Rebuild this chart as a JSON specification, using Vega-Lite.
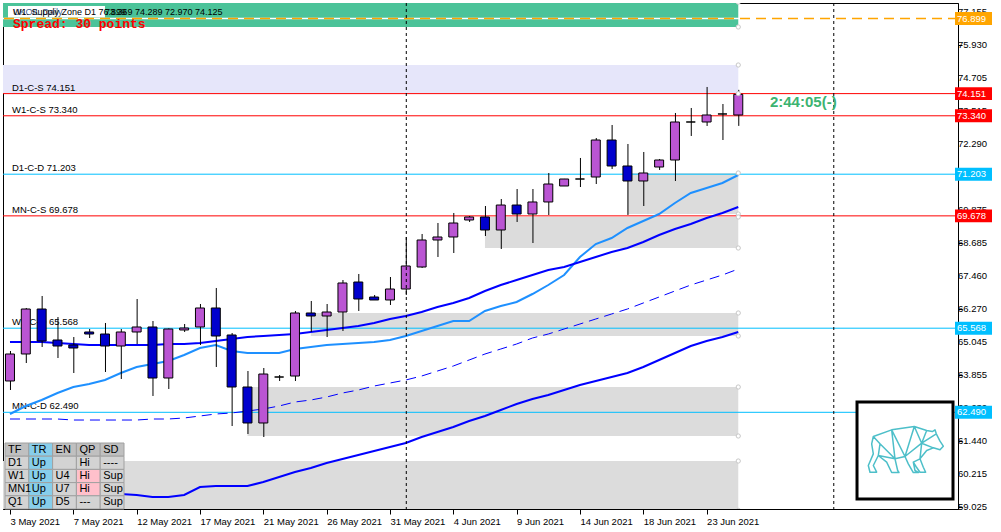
{
  "$schema": "https://vega.github.io/schema/vega-lite/v6.json",
  "width": 955,
  "height": 506,
  "autosize": {"type": "none"},
  "padding": {"left": 3, "top": 3, "right": 43, "bottom": 23},
  "background": "#FFFFFF",
  "config": {"view": {"stroke": "#000000", "strokeWidth": 1}, "font": "Liberation Sans"},
  "datasets": {
    "candles": [
      {"i":0,"d":"2021-05-03","o":63.636,"h":64.733,"l":63.306,"c":64.624,"m1":62.428,"m2":65.062,"m3":62.245,"m4":59.501},
      {"i":1,"d":"2021-05-04","o":64.624,"h":66.307,"l":64.294,"c":66.270,"m1":62.721,"m2":65.062,"m3":62.245,"m4":59.501},
      {"i":2,"d":"2021-05-05","o":66.270,"h":66.746,"l":64.880,"c":65.099,"m1":62.940,"m2":65.062,"m3":62.245,"m4":59.501},
      {"i":3,"d":"2021-05-06","o":65.136,"h":65.977,"l":64.477,"c":64.916,"m1":63.196,"m2":65.026,"m3":62.245,"m4":59.501},
      {"i":4,"d":"2021-05-07","o":64.953,"h":65.245,"l":63.928,"c":64.843,"m1":63.416,"m2":64.989,"m3":62.208,"m4":59.501},
      {"i":5,"d":"2021-05-09","o":65.429,"h":65.538,"l":65.209,"c":65.355,"m1":63.526,"m2":64.953,"m3":62.208,"m4":59.501},
      {"i":6,"d":"2021-05-10","o":65.355,"h":65.758,"l":63.965,"c":64.916,"m1":63.672,"m2":64.953,"m3":62.208,"m4":59.501},
      {"i":7,"d":"2021-05-11","o":64.916,"h":65.538,"l":63.709,"c":65.429,"m1":63.928,"m2":64.953,"m3":62.208,"m4":59.501},
      {"i":8,"d":"2021-05-12","o":65.429,"h":66.636,"l":64.989,"c":65.612,"m1":64.148,"m2":64.953,"m3":62.208,"m4":59.464},
      {"i":9,"d":"2021-05-13","o":65.612,"h":65.831,"l":63.087,"c":63.745,"m1":64.257,"m2":64.953,"m3":62.245,"m4":59.391},
      {"i":10,"d":"2021-05-14","o":63.745,"h":65.560,"l":63.343,"c":65.538,"m1":64.367,"m2":64.989,"m3":62.245,"m4":59.391},
      {"i":11,"d":"2021-05-16","o":65.502,"h":65.721,"l":65.429,"c":65.575,"m1":64.587,"m2":64.989,"m3":62.282,"m4":59.464},
      {"i":12,"d":"2021-05-17","o":65.612,"h":66.453,"l":64.953,"c":66.307,"m1":64.843,"m2":65.026,"m3":62.355,"m4":59.757},
      {"i":13,"d":"2021-05-18","o":66.307,"h":67.039,"l":64.148,"c":65.282,"m1":64.953,"m2":65.099,"m3":62.428,"m4":59.793},
      {"i":14,"d":"2021-05-19","o":65.319,"h":65.392,"l":61.989,"c":63.416,"m1":64.733,"m2":65.172,"m3":62.465,"m4":59.793},
      {"i":15,"d":"2021-05-20","o":63.416,"h":64.001,"l":61.696,"c":62.099,"m1":64.660,"m2":65.245,"m3":62.538,"m4":59.793},
      {"i":16,"d":"2021-05-21","o":62.099,"h":64.111,"l":61.586,"c":63.891,"m1":64.660,"m2":65.282,"m3":62.611,"m4":59.940},
      {"i":17,"d":"2021-05-23","o":63.782,"h":63.855,"l":63.636,"c":63.782,"m1":64.660,"m2":65.319,"m3":62.721,"m4":60.123},
      {"i":18,"d":"2021-05-24","o":63.818,"h":66.197,"l":63.636,"c":66.124,"m1":64.806,"m2":65.355,"m3":62.867,"m4":60.306},
      {"i":19,"d":"2021-05-25","o":66.124,"h":66.563,"l":65.429,"c":66.014,"m1":64.880,"m2":65.428,"m3":62.940,"m4":60.452},
      {"i":20,"d":"2021-05-26","o":66.014,"h":66.453,"l":65.245,"c":66.160,"m1":64.953,"m2":65.502,"m3":63.050,"m4":60.635},
      {"i":21,"d":"2021-05-27","o":66.160,"h":67.331,"l":65.465,"c":67.222,"m1":64.989,"m2":65.575,"m3":63.196,"m4":60.781},
      {"i":22,"d":"2021-05-28","o":67.258,"h":67.551,"l":66.197,"c":66.636,"m1":65.026,"m2":65.648,"m3":63.306,"m4":60.928},
      {"i":23,"d":"2021-05-30","o":66.709,"h":66.783,"l":66.600,"c":66.600,"m1":65.062,"m2":65.758,"m3":63.452,"m4":61.074},
      {"i":24,"d":"2021-05-31","o":66.600,"h":67.441,"l":66.417,"c":67.002,"m1":65.136,"m2":65.904,"m3":63.562,"m4":61.220},
      {"i":25,"d":"2021-06-01","o":67.002,"h":68.905,"l":66.783,"c":67.844,"m1":65.282,"m2":66.014,"m3":63.672,"m4":61.367},
      {"i":26,"d":"2021-06-02","o":67.807,"h":69.015,"l":67.771,"c":68.795,"m1":65.465,"m2":66.160,"m3":63.818,"m4":61.586},
      {"i":27,"d":"2021-06-03","o":68.795,"h":69.417,"l":68.173,"c":68.905,"m1":65.648,"m2":66.343,"m3":64.001,"m4":61.769},
      {"i":28,"d":"2021-06-04","o":68.905,"h":69.783,"l":68.319,"c":69.417,"m1":65.831,"m2":66.490,"m3":64.184,"m4":61.952},
      {"i":29,"d":"2021-06-06","o":69.527,"h":69.673,"l":69.454,"c":69.637,"m1":65.831,"m2":66.673,"m3":64.404,"m4":62.172},
      {"i":30,"d":"2021-06-07","o":69.637,"h":70.039,"l":68.941,"c":69.161,"m1":66.197,"m2":66.929,"m3":64.623,"m4":62.355},
      {"i":31,"d":"2021-06-08","o":69.161,"h":70.295,"l":68.466,"c":70.075,"m1":66.380,"m2":67.148,"m3":64.806,"m4":62.574},
      {"i":32,"d":"2021-06-09","o":70.075,"h":70.661,"l":69.454,"c":69.746,"m1":66.526,"m2":67.331,"m3":64.989,"m4":62.794},
      {"i":33,"d":"2021-06-10","o":69.746,"h":70.661,"l":68.685,"c":70.186,"m1":66.819,"m2":67.514,"m3":65.209,"m4":62.977},
      {"i":34,"d":"2021-06-11","o":70.186,"h":71.247,"l":69.710,"c":70.844,"m1":67.148,"m2":67.697,"m3":65.355,"m4":63.123},
      {"i":35,"d":"2021-06-13","o":70.771,"h":71.030,"l":70.771,"c":71.027,"m1":67.514,"m2":67.807,"m3":65.538,"m4":63.306},
      {"i":36,"d":"2021-06-14","o":71.027,"h":71.796,"l":70.734,"c":71.027,"m1":68.173,"m2":67.990,"m3":65.721,"m4":63.489},
      {"i":37,"d":"2021-06-15","o":71.100,"h":72.527,"l":70.844,"c":72.454,"m1":68.648,"m2":68.173,"m3":65.904,"m4":63.635},
      {"i":38,"d":"2021-06-16","o":72.454,"h":73.003,"l":71.393,"c":71.503,"m1":68.868,"m2":68.356,"m3":66.087,"m4":63.782},
      {"i":39,"d":"2021-06-17","o":71.503,"h":72.308,"l":69.710,"c":70.954,"m1":69.234,"m2":68.502,"m3":66.270,"m4":63.928},
      {"i":40,"d":"2021-06-18","o":70.954,"h":72.015,"l":70.039,"c":71.247,"m1":69.490,"m2":68.722,"m3":66.490,"m4":64.148},
      {"i":41,"d":"2021-06-20","o":71.466,"h":71.759,"l":71.357,"c":71.722,"m1":69.746,"m2":68.978,"m3":66.709,"m4":64.404},
      {"i":42,"d":"2021-06-21","o":71.722,"h":73.442,"l":70.954,"c":73.113,"m1":70.149,"m2":69.197,"m3":66.929,"m4":64.660},
      {"i":43,"d":"2021-06-22","o":73.113,"h":73.625,"l":72.601,"c":73.113,"m1":70.515,"m2":69.380,"m3":67.148,"m4":64.916},
      {"i":44,"d":"2021-06-23","o":73.113,"h":74.394,"l":72.967,"c":73.369,"m1":70.697,"m2":69.600,"m3":67.331,"m4":65.099},
      {"i":45,"d":"2021-06-24","o":73.406,"h":73.771,"l":72.454,"c":73.406,"m1":70.880,"m2":69.783,"m3":67.514,"m4":65.245},
      {"i":46,"d":"2021-06-25","o":73.369,"h":74.289,"l":72.970,"c":74.125,"m1":71.173,"m2":70.002,"m3":67.734,"m4":65.428}
    ],
    "zones": [
      {"z":"W1 supply","x1":-1,"x2":46,"lo":76.589,"hi":77.5,"k":"supplyW"},
      {"z":"D1 supply","x1":-1,"x2":46,"lo":74.151,"hi":75.198,"k":"supplyD"},
      {"z":"D1 demand a","x1":39,"x2":46,"lo":69.746,"hi":71.247,"k":"demand"},
      {"z":"D1 demand b","x1":30,"x2":46,"lo":68.502,"hi":69.637,"k":"demand"},
      {"z":"W1 demand a","x1":19,"x2":46,"lo":65.282,"hi":66.124,"k":"demand"},
      {"z":"W1 demand b","x1":15,"x2":46,"lo":61.623,"hi":63.416,"k":"demand"},
      {"z":"MN demand","x1":-1,"x2":46,"lo":58.9,"hi":60.708,"k":"demand"}
    ],
    "levels": [
      {"lbl":"W1 Supply 76.899","v":76.899,"k":"W"},
      {"lbl":"D1-C-S 74.151","v":74.151,"k":"S"},
      {"lbl":"W1-C-S 73.340","v":73.340,"k":"S"},
      {"lbl":"D1-C-D 71.203","v":71.203,"k":"D"},
      {"lbl":"MN-C-S 69.678","v":69.678,"k":"S"},
      {"lbl":"W1-C-D 65.568","v":65.568,"k":"D"},
      {"lbl":"MN-C-D 62.490","v":62.490,"k":"D"}
    ],
    "pticks": [
      {"v":77.155},{"v":75.930},{"v":74.705},{"v":73.515},{"v":72.290},{"v":71.100},{"v":69.875},{"v":68.685},
      {"v":67.460},{"v":66.270},{"v":65.045},{"v":63.855},{"v":62.630},{"v":61.440},{"v":60.215},{"v":59.025}
    ],
    "seps": [{"i":25,"d":"2021-06-01"},{"i":52,"d":"2021-07-01"}],
    "table": [
      {"r":"h","c":"TF","t":"TF","k":"head"},{"r":"h","c":"TR","t":"TR","k":"trend"},{"r":"h","c":"EN","t":"EN","k":"head"},{"r":"h","c":"QP","t":"QP","k":"head"},{"r":"h","c":"SD","t":"SD","k":"head"},
      {"r":"D1","c":"TF","t":"D1","k":"cell"},{"r":"D1","c":"TR","t":"Up","k":"trend"},{"r":"D1","c":"EN","t":"","k":"cell"},{"r":"D1","c":"QP","t":"Hi","k":"cell"},{"r":"D1","c":"SD","t":"----","k":"cell"},
      {"r":"W1","c":"TF","t":"W1","k":"cell"},{"r":"W1","c":"TR","t":"Up","k":"trend"},{"r":"W1","c":"EN","t":"U4","k":"cell"},{"r":"W1","c":"QP","t":"Hi","k":"hi"},{"r":"W1","c":"SD","t":"Sup","k":"cell"},
      {"r":"MN1","c":"TF","t":"MN1","k":"cell"},{"r":"MN1","c":"TR","t":"Up","k":"trend"},{"r":"MN1","c":"EN","t":"U7","k":"cell"},{"r":"MN1","c":"QP","t":"Hi","k":"hi"},{"r":"MN1","c":"SD","t":"Sup","k":"cell"},
      {"r":"Q1","c":"TF","t":"Q1","k":"cell"},{"r":"Q1","c":"TR","t":"Up","k":"trend"},{"r":"Q1","c":"EN","t":"D5","k":"cell"},{"r":"Q1","c":"QP","t":"---","k":"cell"},{"r":"Q1","c":"SD","t":"Sup","k":"cell"}
    ]
  },
  "layer": [
    {
      "layer": [
        {
          "data": {"name": "zones"},
          "mark": {"type": "rect", "clip": true},
          "encoding": {
            "x": {"field": "x1", "type": "quantitative", "title": null,
                  "scale": {"domain": [-0.125, 59.5625], "nice": false, "zero": false},
                  "axis": {"values": [0,4,8,12,16,20,24,28,32,36,40,44],
                           "labelExpr": "['3 May 2021','7 May 2021','12 May 2021','17 May 2021','21 May 2021','26 May 2021','31 May 2021','4 Jun 2021','9 Jun 2021','14 Jun 2021','18 Jun 2021','23 Jun 2021'][round(datum.value/4)]",
                           "labelAlign": "left", "labelBaseline": "top", "labelPadding": 2, "labelFontSize": 9.5,
                           "labelFont": "Liberation Sans", "labelColor": "#000000", "tickColor": "#000000", "tickSize": 5,
                           "domainColor": "#000000", "grid": false, "title": null, "labelOverlap": false, "labelFlush": false, "labelBound": false}},
            "x2": {"field": "x2"},
            "y": {"field": "lo", "type": "quantitative", "title": null,
                  "scale": {"domain": [58.952, 77.467], "nice": false, "zero": false},
                  "axis": {"orient": "right", "values": [77.155,75.930,74.705,73.515,72.290,71.100,69.875,68.685,67.460,66.270,65.045,63.855,62.630,61.440,60.215,59.025],
                           "labels": false, "tickColor": "#000000", "tickSize": 4, "domainColor": "#000000", "grid": false, "title": null}},
            "y2": {"field": "hi"},
            "fill": {"condition": [{"test": "datum.k==='supplyW'", "value": "#4BC399"}, {"test": "datum.k==='supplyD'", "value": "#E6E6FA"}], "value": "#DCDCDC"}
          }
        },
        {
          "data": {"values": [{}]},
          "mark": {"type": "rect", "fill": "#FFFFFF"},
          "encoding": {
            "x": {"datum": -0.125, "type": "quantitative", "scale": {"domain": [-0.125, 59.5625], "nice": false, "zero": false}},
            "x2": {"datum": 6.0},
            "y": {"datum": 77.357, "type": "quantitative", "scale": {"domain": [58.952, 77.467], "nice": false, "zero": false}},
            "y2": {"datum": 76.936}
          }
        },
        {
          "data": {"name": "levels"},
          "transform": [{"filter": "datum.k !== 'W'"}],
          "mark": {"type": "rule", "strokeWidth": 1},
          "encoding": {
            "y": {"field": "v", "type": "quantitative", "title": null, "scale": {"domain": [58.952, 77.467], "nice": false, "zero": false}},
            "stroke": {"condition": {"test": "datum.k==='S'", "value": "#FF0000"}, "value": "#00BFFF"}
          }
        },
        {
          "data": {"name": "levels"},
          "transform": [{"filter": "datum.k === 'W'"}],
          "mark": {"type": "rule", "stroke": "#FFFFFF", "strokeWidth": 1.5},
          "encoding": {
            "y": {"field": "v", "type": "quantitative", "title": null, "scale": {"domain": [58.952, 77.467], "nice": false, "zero": false}}
          }
        },
        {
          "data": {"name": "levels"},
          "transform": [{"filter": "datum.k === 'W'"}],
          "mark": {"type": "rule", "stroke": "#FFA500", "strokeWidth": 1.5, "strokeDash": [10, 6]},
          "encoding": {
            "y": {"field": "v", "type": "quantitative", "title": null, "scale": {"domain": [58.952, 77.467], "nice": false, "zero": false}}
          }
        },
        {
          "data": {"name": "levels"},
          "transform": [{"filter": "datum.k !== 'W'"}],
          "mark": {"type": "text", "align": "left", "baseline": "alphabetic", "dx": 4, "dy": -3, "fontSize": 9.5, "fill": "#000000"},
          "encoding": {
            "x": {"datum": -0.125, "type": "quantitative", "scale": {"domain": [-0.125, 59.5625], "nice": false, "zero": false}},
            "y": {"field": "v", "type": "quantitative", "title": null, "scale": {"domain": [58.952, 77.467], "nice": false, "zero": false}},
            "text": {"field": "lbl"}
          }
        },
        {
          "data": {"name": "candles"},
          "mark": {"type": "line", "stroke": "#0000FF", "strokeWidth": 2, "clip": true},
          "encoding": {
            "x": {"field": "i", "type": "quantitative", "title": null, "scale": {"domain": [-0.125, 59.5625], "nice": false, "zero": false}},
            "y": {"field": "m4", "type": "quantitative", "title": null, "scale": {"domain": [58.952, 77.467], "nice": false, "zero": false}}
          }
        },
        {
          "data": {"name": "candles"},
          "mark": {"type": "line", "stroke": "#0000FF", "strokeWidth": 1, "strokeDash": [10, 6], "clip": true},
          "encoding": {
            "x": {"field": "i", "type": "quantitative", "title": null, "scale": {"domain": [-0.125, 59.5625], "nice": false, "zero": false}},
            "y": {"field": "m3", "type": "quantitative", "title": null, "scale": {"domain": [58.952, 77.467], "nice": false, "zero": false}}
          }
        },
        {
          "data": {"name": "candles"},
          "mark": {"type": "line", "stroke": "#1E90FF", "strokeWidth": 2, "clip": true},
          "encoding": {
            "x": {"field": "i", "type": "quantitative", "title": null, "scale": {"domain": [-0.125, 59.5625], "nice": false, "zero": false}},
            "y": {"field": "m1", "type": "quantitative", "title": null, "scale": {"domain": [58.952, 77.467], "nice": false, "zero": false}}
          }
        },
        {
          "data": {"name": "candles"},
          "mark": {"type": "line", "stroke": "#0000FF", "strokeWidth": 2, "clip": true},
          "encoding": {
            "x": {"field": "i", "type": "quantitative", "title": null, "scale": {"domain": [-0.125, 59.5625], "nice": false, "zero": false}},
            "y": {"field": "m2", "type": "quantitative", "title": null, "scale": {"domain": [58.952, 77.467], "nice": false, "zero": false}}
          }
        },
        {
          "data": {"name": "candles"},
          "mark": {"type": "rule", "stroke": "#000000", "strokeWidth": 1, "xOffset": 0.5, "clip": true},
          "encoding": {
            "x": {"field": "i", "type": "quantitative", "title": null, "scale": {"domain": [-0.125, 59.5625], "nice": false, "zero": false}},
            "y": {"field": "l", "type": "quantitative", "title": null, "scale": {"domain": [58.952, 77.467], "nice": false, "zero": false}},
            "y2": {"field": "h"}
          }
        },
        {
          "data": {"name": "candles"},
          "mark": {"type": "bar", "width": 9, "stroke": "#000000", "strokeWidth": 1, "clip": true},
          "encoding": {
            "x": {"field": "i", "type": "quantitative", "title": null, "scale": {"domain": [-0.125, 59.5625], "nice": false, "zero": false}},
            "y": {"field": "o", "type": "quantitative", "title": null, "scale": {"domain": [58.952, 77.467], "nice": false, "zero": false}},
            "y2": {"field": "c"},
            "fill": {"condition": {"test": "datum.c > datum.o", "value": "#BA55D3"}, "value": "#0000CD"}
          }
        },
        {
          "data": {"name": "seps"},
          "mark": {"type": "rule", "stroke": "#000000", "strokeWidth": 1, "strokeDash": [3, 3], "xOffset": 0.5},
          "encoding": {
            "x": {"field": "i", "type": "quantitative", "title": null, "scale": {"domain": [-0.125, 59.5625], "nice": false, "zero": false}}
          }
        },
        {
          "data": {"name": "zones"},
          "transform": [{"fold": ["lo", "hi"], "as": ["edge", "p"]}],
          "mark": {"type": "point", "filled": true, "fill": "#FFFFFF", "stroke": "#C8C8C8", "strokeWidth": 1, "size": 18, "opacity": 1, "clip": true},
          "encoding": {
            "x": {"field": "x2", "type": "quantitative", "title": null, "scale": {"domain": [-0.125, 59.5625], "nice": false, "zero": false}},
            "y": {"field": "p", "type": "quantitative", "title": null, "scale": {"domain": [58.952, 77.467], "nice": false, "zero": false}}
          }
        },
        {
          "data": {"values": [{}]},
          "mark": {"type": "text", "text": "UKOIL,Daily", "align": "left", "baseline": "middle", "dx": 5, "fontSize": 9, "fill": "#3A5A8C"},
          "encoding": {
            "x": {"datum": -0.125, "type": "quantitative", "scale": {"domain": [-0.125, 59.5625], "nice": false, "zero": false}},
            "y": {"datum": 77.13, "type": "quantitative", "scale": {"domain": [58.952, 77.467], "nice": false, "zero": false}}
          }
        },
        {
          "data": {"values": [{}]},
          "mark": {"type": "text", "text": "W1. Supply Zone D1 76.899", "align": "left", "baseline": "middle", "dx": 5, "fontSize": 9, "fill": "#000000"},
          "encoding": {
            "x": {"datum": -0.125, "type": "quantitative", "scale": {"domain": [-0.125, 59.5625], "nice": false, "zero": false}},
            "y": {"datum": 77.13, "type": "quantitative", "scale": {"domain": [58.952, 77.467], "nice": false, "zero": false}}
          }
        },
        {
          "data": {"values": [{}]},
          "mark": {"type": "text", "text": "73.369 74.289 72.970 74.125", "align": "left", "baseline": "middle", "fontSize": 9, "fill": "#000000"},
          "encoding": {
            "x": {"datum": 6.0, "type": "quantitative", "scale": {"domain": [-0.125, 59.5625], "nice": false, "zero": false}},
            "y": {"datum": 77.13, "type": "quantitative", "scale": {"domain": [58.952, 77.467], "nice": false, "zero": false}}
          }
        },
        {
          "data": {"values": [{}]},
          "mark": {"type": "text", "text": "Spread: 30 points", "align": "left", "baseline": "middle", "dx": 5, "font": "Liberation Mono", "fontWeight": "bold", "fontSize": 13, "fill": "#FF0000"},
          "encoding": {
            "x": {"datum": -0.125, "type": "quantitative", "scale": {"domain": [-0.125, 59.5625], "nice": false, "zero": false}},
            "y": {"datum": 76.698, "type": "quantitative", "scale": {"domain": [58.952, 77.467], "nice": false, "zero": false}}
          }
        },
        {
          "data": {"values": [{}]},
          "mark": {"type": "text", "text": "2:44:05(-)", "align": "left", "baseline": "middle", "fontWeight": "bold", "fontSize": 15, "fill": "#3CB371"},
          "encoding": {
            "x": {"datum": 48, "type": "quantitative", "scale": {"domain": [-0.125, 59.5625], "nice": false, "zero": false}},
            "y": {"datum": 73.844, "type": "quantitative", "scale": {"domain": [58.952, 77.467], "nice": false, "zero": false}}
          }
        },
        {
          "data": {"values": [{}]},
          "mark": {"type": "rect", "fill": "#FFFFFF", "stroke": "#000000", "strokeWidth": 3},
          "encoding": {
            "x": {"datum": 53.5, "type": "quantitative", "scale": {"domain": [-0.125, 59.5625], "nice": false, "zero": false}},
            "x2": {"datum": 59.5625},
            "y": {"datum": 62.867, "type": "quantitative", "scale": {"domain": [58.952, 77.467], "nice": false, "zero": false}},
            "y2": {"datum": 59.318}
          }
        },
        {
          "data": {"values": [{}]},
          "mark": {"type": "point", "filled": false, "opacity": 1, "size": 6400, "stroke": "#4DBFC9", "strokeWidth": 1.5, "strokeJoin": "round",
                   "shape": "M-0.792,-0.35L-0.333,-0.517L0.233,-0.6L0.542,-0.5L0.683,-0.475L0.75,-0.517L0.783,-0.417L0.875,-0.233L0.958,-0.108L0.875,-0.017L0.708,-0.067L0.542,0L0.375,0.208L0.458,0.417L0.517,0.542L0.375,0.542L0.275,0.4L0.208,0.292L0.25,0.5L0.333,0.55L0.208,0.55L0.083,0.333L0,0.15L-0.25,0.208L-0.183,0.5L-0.15,0.55L-0.333,0.55L-0.458,0.292L-0.667,0.125L-0.792,0.375L-0.708,0.542L-0.875,0.542L-0.917,0.375L-0.792,0.083L-0.833,-0.167Z M-0.333,-0.517L-0.25,0.208 M-0.333,-0.517L0,0.15 M0.233,-0.6L0,0.15 M0.233,-0.6L0.417,-0.183 M0.542,-0.5L0.417,-0.183 M0.783,-0.417L0.417,-0.183 M0.708,-0.067L0.417,-0.183 M0.375,0.208L0.417,-0.183 M0,0.15L0.417,-0.183 M-0.792,-0.35L-0.625,-0.167 M-0.625,-0.167L-0.25,0.208 M-0.625,-0.167L-0.667,0.125 M-0.667,0.125L-0.25,0.208 M0,0.15L0.083,0.333 M0.375,0.208L0.208,0.292"},
          "encoding": {
            "x": {"datum": 56.53, "type": "quantitative", "scale": {"domain": [-0.125, 59.5625], "nice": false, "zero": false}},
            "y": {"datum": 61.092, "type": "quantitative", "scale": {"domain": [58.952, 77.467], "nice": false, "zero": false}}
          }
        },
        {
          "data": {"name": "pticks"},
          "mark": {"type": "text", "align": "left", "baseline": "middle", "dx": 5, "fontSize": 9.5, "fill": "#000000"},
          "encoding": {
            "x": {"datum": 59.5625, "type": "quantitative", "scale": {"domain": [-0.125, 59.5625], "nice": false, "zero": false}},
            "y": {"field": "v", "type": "quantitative", "title": null, "scale": {"domain": [58.952, 77.467], "nice": false, "zero": false}},
            "text": {"field": "v", "type": "quantitative", "format": ".3f"}
          }
        },
        {
          "data": {"name": "levels"},
          "mark": {"type": "point", "shape": "M-1,-0.35L1,-0.35L1,0.35L-1,0.35Z", "size": 1369, "filled": true, "opacity": 1, "strokeWidth": 0, "xOffset": 20.5},
          "encoding": {
            "x": {"datum": 59.5625, "type": "quantitative", "scale": {"domain": [-0.125, 59.5625], "nice": false, "zero": false}},
            "y": {"field": "v", "type": "quantitative", "title": null, "scale": {"domain": [58.952, 77.467], "nice": false, "zero": false}},
            "fill": {"condition": [{"test": "datum.k==='S'", "value": "#FF0000"}, {"test": "datum.k==='W'", "value": "#FFA500"}], "value": "#00BFFF"}
          }
        },
        {
          "data": {"name": "levels"},
          "mark": {"type": "text", "align": "left", "baseline": "middle", "dx": 4, "fontSize": 9.5, "fill": "#FFFFFF"},
          "encoding": {
            "x": {"datum": 59.5625, "type": "quantitative", "scale": {"domain": [-0.125, 59.5625], "nice": false, "zero": false}},
            "y": {"field": "v", "type": "quantitative", "title": null, "scale": {"domain": [58.952, 77.467], "nice": false, "zero": false}},
            "text": {"field": "v", "type": "quantitative", "format": ".3f"}
          }
        }
      ]
    },
    {
      "data": {"name": "table"},
      "layer": [
        {
          "mark": {"type": "rect", "stroke": "#A0A0A0", "strokeWidth": 1},
          "encoding": {
            "x": {"field": "c", "type": "nominal", "axis": null,
                  "scale": {"type": "band", "domain": ["TF","TR","EN","QP","SD"], "range": [2, 121], "paddingInner": 0, "paddingOuter": 0}},
            "y": {"field": "r", "type": "nominal", "axis": null,
                  "scale": {"type": "band", "domain": ["h","D1","W1","MN1","Q1"], "range": [440, 506], "paddingInner": 0, "paddingOuter": 0}},
            "fill": {"condition": [{"test": "datum.k==='head'", "value": "#C0C0C0"}, {"test": "datum.k==='trend'", "value": "#87CEEB"}, {"test": "datum.k==='hi'", "value": "#FFC0CB"}], "value": "#D3D3D3"}
          }
        },
        {
          "mark": {"type": "text", "align": "left", "baseline": "middle", "dx": 3, "fontSize": 11, "fill": "#000000"},
          "encoding": {
            "x": {"field": "c", "type": "nominal", "axis": null, "bandPosition": 0,
                  "scale": {"type": "band", "domain": ["TF","TR","EN","QP","SD"], "range": [2, 121], "paddingInner": 0, "paddingOuter": 0}},
            "y": {"field": "r", "type": "nominal", "axis": null,
                  "scale": {"type": "band", "domain": ["h","D1","W1","MN1","Q1"], "range": [440, 506], "paddingInner": 0, "paddingOuter": 0}},
            "text": {"field": "t"}
          }
        }
      ]
    }
  ],
  "resolve": {"scale": {"x": "independent", "y": "independent"}}
}
